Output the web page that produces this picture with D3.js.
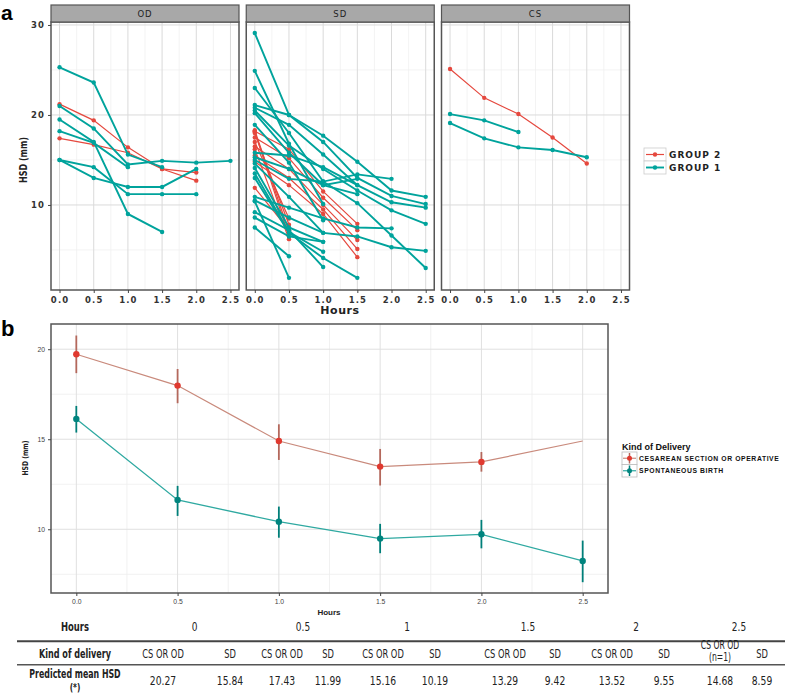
<!DOCTYPE html>
<html>
<head>
<meta charset="utf-8">
<script src="https://cdn.jsdelivr.net/npm/d3@7"></script>
<style>
  body { margin: 0; background: #fff; }
  svg { display: block; }
</style>
</head>
<body>
<div id="chart"></div>
<script>
// ---- data (panel a: one array per subject, index = hour step) ----
const hours = [0, 0.5, 1, 1.5, 2, 2.5];
const facets = ["OD", "SD", "CS"];

const odGroup1 = [
  [25.3, 23.6, 15.6, 14.2],
  [21.0, 18.5, 14.5, 14.9, 14.7, 14.9],
  [19.5, 17.0, 9.0, 7.0],
  [18.2, 16.9, 14.2],
  [15.0, 14.2, 11.2, 11.2, 11.2],
  [15.0, 13.0, 12.0, 12.0, 14.0]
];
const odGroup2 = [
  [21.2, 19.4, 16.4, 14.0, 12.7],
  [17.4, 16.7, 15.8, 14.0, 13.6]
];
const sdGroup1 = [
  [29.1, 20.0, 17.7, 14.8, 11.6, 10.9],
  [24.9, 16.8, 10.1],
  [23.0, 18.0, 12.6, 13.4, 12.9],
  [21.1, 20.0, 17.0, 13.0, 11.0, 10.1],
  [20.8, 18.9, 15.6, 12.2, 10.3, 9.7],
  [20.5, 16.6, 14.0, 11.6, 9.4, 7.9],
  [20.2, 15.8, 12.2, 12.9],
  [18.9, 14.7, 8.3],
  [15.8, 15.5, 14.2, 12.2],
  [15.3, 14.0, 12.2, 11.2],
  [15.0, 12.9, 12.6, 10.2, 6.6, 3.0],
  [14.6, 10.9, 6.9],
  [14.1, 7.5, 5.9],
  [13.5, 7.0, 4.8],
  [13.0, 6.9, 4.1, 1.9],
  [10.9, 9.7, 8.5, 7.5, 7.4],
  [10.5, 8.6, 6.9, 6.5, 5.3, 4.9],
  [10.4, 1.9],
  [9.2, 7.2, 3.1],
  [8.6, 6.5, 5.9],
  [7.5, 4.3]
];
const sdGroup2 = [
  [18.3, 7.0],
  [18.1, 6.5],
  [18.0, 7.8],
  [17.0, 8.5],
  [16.2, 6.2],
  [11.9, 7.2],
  [18.2, 16.2, 11.5, 7.9],
  [17.5, 15.2, 10.8, 7.2],
  [16.5, 14.0, 10.0, 6.1],
  [15.5, 13.0, 9.5, 5.1],
  [14.8, 12.2, 9.0, 4.2]
];
const csGroup1 = [
  [20.1, 19.4, 18.1],
  [19.1, 17.4, 16.4, 16.1, 15.3]
];
const csGroup2 = [
  [25.1, 21.9, 20.1, 17.5, 14.6]
];
const groupLabels = ["GROUP 2", "GROUP 1"];

// ---- data (panel b: predicted means with intervals) ----
const deliveryLabels = ["CESAREAN  SECTION OR OPERATIVE", "SPONTANEOUS  BIRTH"];
const csMean = [19.72, 17.98, 14.9, 13.48, 13.74, 14.9];
const csLow = [18.67, 17.0, 13.85, 12.43, 13.2, null];
const csHigh = [20.76, 18.9, 15.83, 14.46, 14.29, null];
const sdMean = [16.13, 11.63, 10.42, 9.48, 9.72, 8.24];
const sdLow = [15.37, 10.74, 9.53, 8.67, 8.94, 7.06];
const sdHigh = [16.85, 12.41, 11.26, 10.3, 10.52, 9.37];

// ---- data (table) ----
const tableHours = ["0", "0.5", "1", "1.5", "2", "2.5"];
const tableKinds = ["CS OR OD", "SD", "CS OR OD", "SD", "CS OR OD", "SD",
                    "CS OR OD", "SD", "CS OR OD", "SD", "CS OR OD|(n=1)", "SD"];
const predicted = ["20.27", "15.84", "17.43", "11.99", "15.16", "10.19",
                   "13.29", "9.42", "13.52", "9.55", "14.68", "8.59"];

const RED = "#e5483e", TEAL = "#00a39c";
const boldFont = "'DejaVu Sans', sans-serif";
const armFont = "'Liberation Sans', Arial, sans-serif";
const narrowFont = "'DejaVu Sans Condensed', 'DejaVu Sans', sans-serif";

const svg = d3.select("#chart").append("svg")
  .attr("width", 787).attr("height", 697);

// ================= panel a =================
const yA = d3.scaleLinear().domain([0.55, 30.33]).range([290, 22]);
const panelW = 188;

function drawFacet(i, g1, g2) {
  const left = 51 + i * 195.25;
  const x = d3.scaleLinear().domain([-0.125, 2.625]).range([left, left + panelW]);
  const g = svg.append("g");

  g.append("rect").attr("x", left).attr("y", 22).attr("width", panelW).attr("height", 268)
    .attr("fill", "#fff");
  // minor grid
  g.selectAll(".vmin").data([0.25, 0.75, 1.25, 1.75, 2.25]).enter().append("line")
    .attr("x1", d => x(d)).attr("x2", d => x(d)).attr("y1", 22).attr("y2", 290)
    .attr("stroke", "#f0f0f0").attr("stroke-width", 0.8);
  g.selectAll(".hmin").data([5, 15, 25]).enter().append("line")
    .attr("x1", left).attr("x2", left + panelW).attr("y1", d => yA(d)).attr("y2", d => yA(d))
    .attr("stroke", "#f0f0f0").attr("stroke-width", 0.8);
  // major grid
  g.selectAll(".vmaj").data(hours).enter().append("line")
    .attr("x1", d => x(d)).attr("x2", d => x(d)).attr("y1", 22).attr("y2", 290)
    .attr("stroke", "#dadada").attr("stroke-width", 1);
  g.selectAll(".hmaj").data([10, 20, 30]).enter().append("line")
    .attr("x1", left).attr("x2", left + panelW).attr("y1", d => yA(d)).attr("y2", d => yA(d))
    .attr("stroke", "#dadada").attr("stroke-width", 1);

  const line = d3.line()
    .defined(d => d != null)
    .x((d, k) => x(hours[k]))
    .y(d => yA(d));

  function drawGroup(series, color, width) {
    series.forEach(s => {
      g.append("path").attr("d", line(s)).attr("fill", "none")
        .attr("stroke", color).attr("stroke-width", width);
      g.selectAll(null).data(s.map((v, k) => [k, v]).filter(p => p[1] != null)).enter()
        .append("circle")
        .attr("cx", p => x(hours[p[0]])).attr("cy", p => yA(p[1]))
        .attr("r", 2.2).attr("fill", color);
    });
  }
  drawGroup(g2, RED, 1.2);
  drawGroup(g1, TEAL, 1.9);

  // border
  g.append("rect").attr("x", left).attr("y", 22).attr("width", panelW).attr("height", 268)
    .attr("fill", "none").attr("stroke", "#555").attr("stroke-width", 1.5);
  // strip
  g.append("rect").attr("x", left).attr("y", 5).attr("width", panelW).attr("height", 17)
    .attr("fill", "#a8a8a8").attr("stroke", "#555").attr("stroke-width", 1.2);
  g.append("text").attr("x", left + panelW / 2).attr("y", 17)
    .attr("text-anchor", "middle").attr("font-family", boldFont).attr("font-size", 8.5)
    .attr("letter-spacing", 1).attr("fill", "#222").text(facets[i]);

  // x axis
  const ax = g.append("g").attr("transform", "translate(0,290)")
    .call(d3.axisBottom(x).tickValues(hours).tickFormat(d3.format(".1f")).tickSize(3).tickSizeOuter(0));
  ax.select(".domain").remove();
  ax.selectAll("line").attr("stroke", "#444");
  ax.selectAll("text").attr("font-family", boldFont).attr("font-weight", "bold")
    .attr("font-size", 8.5).attr("letter-spacing", 1.1).attr("fill", "#333").attr("dy", "0.8em");
  return x;
}

drawFacet(0, odGroup1, odGroup2);
drawFacet(1, sdGroup1, sdGroup2);
drawFacet(2, csGroup1, csGroup2);

const ayA = svg.append("g").attr("transform", "translate(51,0)")
  .call(d3.axisLeft(yA).tickValues([10, 20, 30]).tickSize(3).tickSizeOuter(0));
ayA.select(".domain").remove();
ayA.selectAll("line").attr("stroke", "#444");
ayA.selectAll("text").attr("font-family", boldFont).attr("font-weight", "bold")
  .attr("font-size", 8.5).attr("letter-spacing", 1.1).attr("fill", "#333");

svg.append("text").attr("x", 340).attr("y", 314).attr("text-anchor", "middle")
  .attr("font-family", boldFont).attr("font-weight", "bold").attr("font-size", 11)
  .attr("letter-spacing", 0.6).attr("fill", "#222").text("Hours");
svg.append("text").attr("transform", "translate(27,160) rotate(-90) scale(0.85,1)").attr("text-anchor", "middle")
  .attr("font-family", narrowFont).attr("font-weight", "bold").attr("font-size", 10.5)
  .attr("fill", "#222").text("HSD (mm)");
svg.append("text").attr("x", 1).attr("y", 20).attr("font-family", armFont)
  .attr("font-weight", "bold").attr("font-size", 21).text("a");

// legend a
const legA = svg.append("g");
[RED, TEAL].forEach((c, k) => {
  const y0 = 148 + k * 13;
  legA.append("rect").attr("x", 644).attr("y", y0).attr("width", 22).attr("height", 13)
    .attr("fill", "#fff").attr("stroke", "#ccc").attr("stroke-width", 0.8);
  legA.append("line").attr("x1", 646).attr("x2", 664).attr("y1", y0 + 6.5).attr("y2", y0 + 6.5)
    .attr("stroke", c).attr("stroke-width", k ? 1.9 : 1.2);
  legA.append("circle").attr("cx", 655).attr("cy", y0 + 6.5).attr("r", 2.2).attr("fill", c);
  legA.append("text").attr("x", 669).attr("y", y0 + 10).attr("font-family", boldFont)
    .attr("font-weight", "bold").attr("font-size", 9).attr("letter-spacing", 1)
    .attr("fill", "#222").text(groupLabels[k]);
});

// ================= panel b =================
const xB = d3.scaleLinear().domain([-0.125, 2.625]).range([51, 608]);
const yB = d3.scaleLinear().domain([6.46, 21.4]).range([593, 324]);
const gb = svg.append("g");
gb.append("rect").attr("x", 51).attr("y", 324).attr("width", 557).attr("height", 269).attr("fill", "#fff");
gb.selectAll(".vmin").data([0.25, 0.75, 1.25, 1.75, 2.25]).enter().append("line")
  .attr("x1", d => xB(d)).attr("x2", d => xB(d)).attr("y1", 324).attr("y2", 593)
  .attr("stroke", "#eeeeee").attr("stroke-width", 0.8);
gb.selectAll(".hmin").data([7.5, 12.5, 17.5]).enter().append("line")
  .attr("x1", 51).attr("x2", 608).attr("y1", d => yB(d)).attr("y2", d => yB(d))
  .attr("stroke", "#eeeeee").attr("stroke-width", 0.8);
gb.selectAll(".vmaj").data(hours).enter().append("line")
  .attr("x1", d => xB(d)).attr("x2", d => xB(d)).attr("y1", 324).attr("y2", 593)
  .attr("stroke", "#e0e0e0").attr("stroke-width", 1);
gb.selectAll(".hmaj").data([10, 15, 20]).enter().append("line")
  .attr("x1", 51).attr("x2", 608).attr("y1", d => yB(d)).attr("y2", d => yB(d))
  .attr("stroke", "#e0e0e0").attr("stroke-width", 1);

const lineB = d3.line().x((d, k) => xB(hours[k])).y(d => yB(d));
function drawSeriesB(mean, low, high, lineColor, ptColor, barColor, lw) {
  gb.append("path").attr("d", lineB(mean)).attr("fill", "none")
    .attr("stroke", lineColor).attr("stroke-width", lw);
  const pts = mean.map((m, k) => ({ h: hours[k], m: m, lo: low[k], hi: high[k] }))
    .filter(p => p.lo != null);
  gb.selectAll(null).data(pts).enter().append("line")
    .attr("x1", p => xB(p.h)).attr("x2", p => xB(p.h))
    .attr("y1", p => yB(p.lo)).attr("y2", p => yB(p.hi))
    .attr("stroke", barColor).attr("stroke-width", 1.8);
  gb.selectAll(null).data(pts).enter().append("circle")
    .attr("cx", p => xB(p.h)).attr("cy", p => yB(p.m)).attr("r", 3.2).attr("fill", ptColor);
}
drawSeriesB(csMean, csLow, csHigh, "#c98a7c", "#e0392f", "#b4685c", 1.2);
drawSeriesB(sdMean, sdLow, sdHigh, "#2fa9a1", "#00847e", "#007f79", 1.3);

gb.append("rect").attr("x", 51).attr("y", 324).attr("width", 557).attr("height", 269)
  .attr("fill", "none").attr("stroke", "#555").attr("stroke-width", 1.5);

const axB = gb.append("g").attr("transform", "translate(0,593)")
  .call(d3.axisBottom(xB).tickValues(hours).tickFormat(d3.format(".1f")).tickSize(3).tickSizeOuter(0));
axB.select(".domain").remove();
axB.selectAll("line").attr("stroke", "#444");
axB.selectAll("text").attr("font-family", armFont).attr("font-size", 6.8).attr("fill", "#444");
const ayB = gb.append("g").attr("transform", "translate(51,0)")
  .call(d3.axisLeft(yB).tickValues([10, 15, 20]).tickSize(3).tickSizeOuter(0));
ayB.select(".domain").remove();
ayB.selectAll("line").attr("stroke", "#444");
ayB.selectAll("text").attr("font-family", armFont).attr("font-size", 6.8).attr("fill", "#444");

svg.append("text").attr("x", 329).attr("y", 615).attr("text-anchor", "middle")
  .attr("font-family", armFont).attr("font-weight", "bold").attr("font-size", 8)
  .attr("fill", "#222").text("Hours");
svg.append("text").attr("transform", "translate(28,458) rotate(-90) scale(0.85,1)").attr("text-anchor", "middle")
  .attr("font-family", narrowFont).attr("font-weight", "bold").attr("font-size", 8)
  .attr("fill", "#222").text("HSD (mm)");
svg.append("text").attr("x", 1).attr("y", 336).attr("font-family", armFont)
  .attr("font-weight", "bold").attr("font-size", 22).text("b");

// legend b
const legB = svg.append("g");
legB.append("text").attr("x", 622).attr("y", 450).attr("font-family", armFont)
  .attr("font-weight", "bold").attr("font-size", 9).attr("fill", "#111").text("Kind of Delivery");
[["#c98a7c", "#e0392f", "#b4685c"], ["#2fa9a1", "#00847e", "#007f79"]].forEach((c, k) => {
  const y0 = 452 + k * 12.5;
  legB.append("rect").attr("x", 622).attr("y", y0).attr("width", 15).attr("height", 12.5)
    .attr("fill", "#fff").attr("stroke", "#bbb").attr("stroke-width", 0.8);
  legB.append("line").attr("x1", 623).attr("x2", 636).attr("y1", y0 + 6.25).attr("y2", y0 + 6.25)
    .attr("stroke", c[0]).attr("stroke-width", 1.2);
  legB.append("line").attr("x1", 629.5).attr("x2", 629.5).attr("y1", y0 + 1).attr("y2", y0 + 11.5)
    .attr("stroke", c[2]).attr("stroke-width", 1.5);
  legB.append("circle").attr("cx", 629.5).attr("cy", y0 + 6.25).attr("r", 2.5).attr("fill", c[1]);
  legB.append("text").attr("x", 639).attr("y", y0 + 8.8).attr("font-family", armFont)
    .attr("font-weight", "bold").attr("font-size", 6.8).attr("letter-spacing", 0.6)
    .attr("fill", "#111").text(deliveryLabels[k].replace(/  /g, " "));
});

// ================= table =================
const colX = [163, 230, 282, 328, 383, 435, 505, 555, 612, 664, 720, 762];
const tb = svg.append("g").attr("font-family", narrowFont).attr("font-size", 12.5).attr("fill", "#222");
function cell(x, y, txt, bold, sx, fs) {
  tb.append("text").attr("transform", `translate(${x},${y}) scale(${sx || 0.8},1)`)
    .attr("text-anchor", "middle").attr("font-weight", bold ? "bold" : "normal")
    .attr("font-size", fs || 12.5).text(txt);
}
cell(75, 631, "Hours", true, 0.75);
tableHours.forEach((h, k) => cell((colX[2 * k] + colX[2 * k + 1]) / 2 - 2, 631, h, false));
tb.append("line").attr("x1", 17).attr("x2", 785).attr("y1", 641.3).attr("y2", 641.3)
  .attr("stroke", "#444").attr("stroke-width", 2);
tb.append("line").attr("x1", 17).attr("x2", 785).attr("y1", 664.7).attr("y2", 664.7)
  .attr("stroke", "#555").attr("stroke-width", 1.4);
cell(75, 658, "Kind of delivery", true, 0.72);
tableKinds.forEach((t, k) => {
  const parts = t.split("|");
  parts.forEach((p, j) => cell(colX[k], parts.length > 1 ? 649 + j * 12 : 658, p, false,
    0.74, parts.length > 1 ? 11.5 : 12.5));
});
cell(75, 677.5, "Predicted mean HSD", true, 0.7);
cell(75, 691, "(*)", true, 0.75, 11);
predicted.forEach((v, k) => cell(colX[k], 685, v, false, 0.82));
</script>
</body>
</html>
